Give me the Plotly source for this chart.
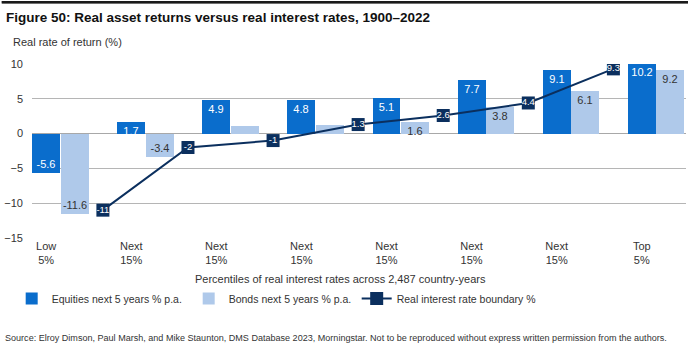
import base64
import plotly.graph_objects as go

categories = ["Low<br>5%", "Next<br>15%", "Next<br>15%", "Next<br>15%",
              "Next<br>15%", "Next<br>15%", "Next<br>15%", "Top<br>5%"]
equities = [-5.6, 1.7, 4.9, 4.8, 5.1, 7.7, 9.1, 10.2]
bonds = [-11.6, -3.4, 1.1, 1.2, 1.6, 3.8, 6.1, 9.2]
bond_labels = ["-11.6", "-3.4", "", "", "1.6", "3.8", "6.1", "9.2"]
boundary = [-11, -2, -1, 1.3, 2.6, 4.4, 9.3]
boundary_labels = ["-11", "-2", "-1", "1.3", "2.6", "4.4", "9.3"]

EQ = "#0A6DCC"
BD = "#AFC9EA"
LN = "#0B2F5E"
FONT = "Liberation Sans, Arial, sans-serif"

idx = list(range(len(categories)))
slot = 1 / 3

fig = go.Figure()
fig.add_trace(go.Bar(
    x=[i for i in idx], y=equities, width=slot * 0.985,
    name="Equities next 5 years % p.a.", marker=dict(color=EQ, line=dict(width=0)),
    text=[f"{v:g}" for v in equities], textposition="inside", insidetextanchor="end",
    textangle=0, constraintext="none", legendwidth=132,
    textfont=dict(color="white", size=11, family=FONT),
))
fig.add_trace(go.Bar(
    x=[i + slot for i in idx], y=bonds, width=slot * 0.985,
    name="Bonds next 5 years % p.a.", marker=dict(color=BD, line=dict(width=0)),
    text=bond_labels, textposition="inside", insidetextanchor="end",
    textangle=0, constraintext="none", legendwidth=123,
    textfont=dict(color="#333333", size=11, family=FONT),
))
fig.add_trace(go.Scatter(
    x=[i + 2 * slot for i in idx[:len(boundary)]], y=boundary,
    name="Real interest rate boundary %", mode="lines+markers+text",
    line=dict(color=LN, width=2),
    marker=dict(symbol="square", size=13, color=LN),
    text=boundary_labels, textposition="middle center",
    textfont=dict(color="white", size=9.5, family=FONT),
))

ptop, pbot = 64.3, 237.7
ph = pbot - ptop
pl, pr = 32.3, 686.0
pw = pr - pl

def ypaper(y):
    return (pbot - y) / ph

def xpaper(x):
    return (x - pl) / pw

rule_svg = ('<svg xmlns="http://www.w3.org/2000/svg" width="686" height="3">'
            '<rect width="686" height="3" fill="#1A1A1A"/></svg>')
rule_src = "data:image/svg+xml;base64," + base64.b64encode(rule_svg.encode()).decode()

fig.update_layout(
    width=690, height=346,
    margin=dict(l=pl, r=690 - pr, t=ptop, b=346 - pbot),
    paper_bgcolor="white", plot_bgcolor="white",
    barmode="overlay", bargap=0,
    font=dict(family=FONT, size=11, color="#333333"),
    showlegend=True,
    legend=dict(orientation="h", x=xpaper(12), y=ypaper(298), xanchor="left", yanchor="middle",
                font=dict(size=10.5, color="#333333"), itemwidth=30,
                tracegroupgap=0, bgcolor="rgba(0,0,0,0)"),
    title=dict(text="<b>Figure 50: Real asset returns versus real interest rates, 1900–2022</b>",
               x=6 / 690, xanchor="left", xref="container",
               y=1 - 17.5 / 346, yanchor="middle", yref="container",
               font=dict(size=13.5, color="#111111", family=FONT)),
    xaxis=dict(range=[-slot / 2, 7.52],
               tickmode="array", tickvals=idx, ticktext=categories,
               showgrid=False, zeroline=False, showline=False, ticks="",
               tickfont=dict(size=11, color="#333333")),
    yaxis=dict(range=[-15, 10], tickvals=[-15, -10, -5, 0, 5, 10],
               showgrid=True, gridcolor="#B5B5B5", gridwidth=1,
               zeroline=True, zerolinecolor="#A8A8A8", zerolinewidth=1,
               ticks="", ticklabelstandoff=8, showline=False,
               tickfont=dict(size=11, color="#333333")),
    shapes=[dict(type="line", xref="paper", yref="paper", layer="above",
                 x0=xpaper(2), x1=xpaper(688), y0=ypaper(2.75), y1=ypaper(2.75),
                 line=dict(color="#1A1A1A", width=2.5))],
    images=[dict(source=rule_src, xref="paper", yref="paper",
                 x=xpaper(2), y=ypaper(1.5), sizex=686 / pw, sizey=2.5 / ph,
                 xanchor="left", yanchor="top", sizing="stretch", layer="above")],
    annotations=[
        dict(text="Real rate of return (%)", xref="paper", yref="paper",
             x=xpaper(11), y=ypaper(42), xanchor="left", yanchor="middle", showarrow=False,
             font=dict(size=11, color="#333333")),
        dict(text="Percentiles of real interest rates across 2,487 country-years",
             xref="paper", yref="paper", x=xpaper(341), y=ypaper(279),
             xanchor="center", yanchor="middle", showarrow=False,
             font=dict(size=11, color="#333333")),
        dict(text="Source: Elroy Dimson, Paul Marsh, and Mike Staunton, DMS Database 2023, Morningstar. "
                  "Not to be reproduced without express written permission from the authors.",
             xref="paper", yref="paper", x=xpaper(3), y=ypaper(337),
             xanchor="left", yanchor="middle", showarrow=False,
             font=dict(size=9.05, color="#333333")),
    ],
)

fig.write_html("out.html")
